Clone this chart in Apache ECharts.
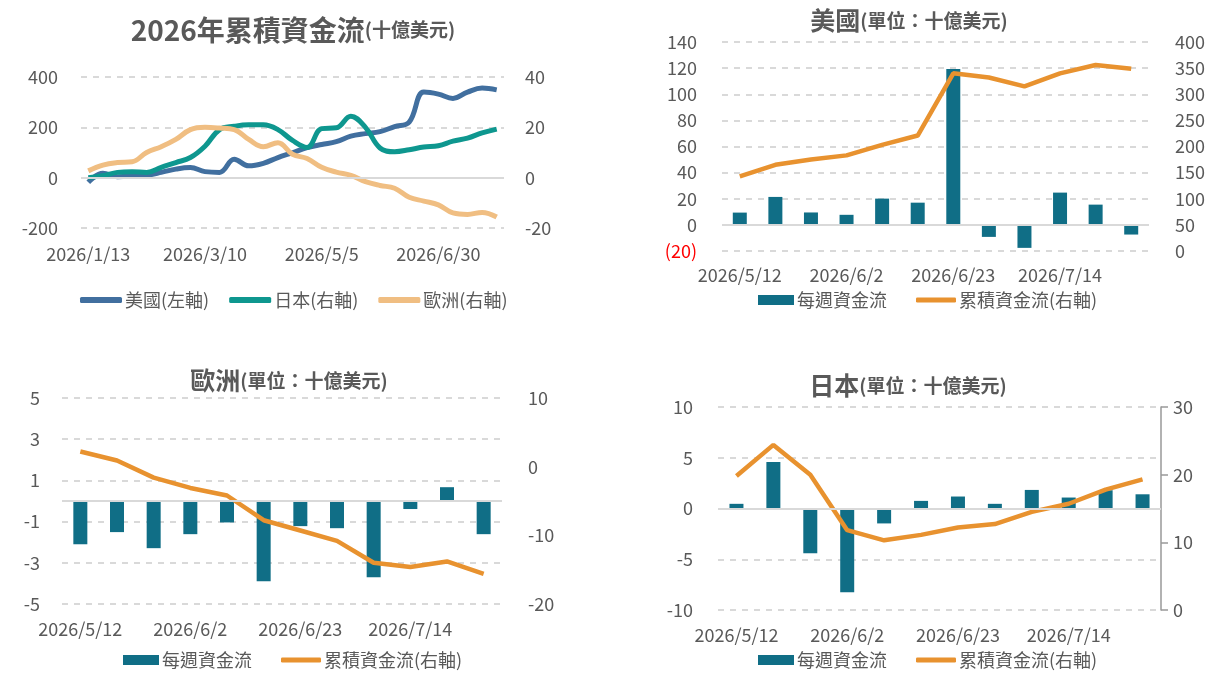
<!DOCTYPE html>
<html>
<head>
<meta charset="utf-8">
<title>2026年累積資金流</title>
<script src="https://cdn.jsdelivr.net/npm/echarts@6/dist/echarts.min.js"></script>
<style>
  html, body { margin: 0; padding: 0; background: #fff; }
  #main { width: 1230px; height: 675px; }
</style>
</head>
<body>
<div id="main"></div>
<script>
// 左上：2026年每週累積資金流(十億美元)
var weeks = ['2026/1/13','2026/1/20','2026/1/27','2026/2/3','2026/2/10','2026/2/17','2026/2/24','2026/3/3',
  '2026/3/10','2026/3/17','2026/3/24','2026/3/31','2026/4/7','2026/4/14','2026/4/21','2026/4/28',
  '2026/5/5','2026/5/12','2026/5/19','2026/5/26','2026/6/2','2026/6/9','2026/6/16','2026/6/23',
  '2026/6/30','2026/7/7','2026/7/14','2026/7/21','2026/7/28'];
var usCum = [-18, 18, 4, 6, 10, 21, 34, 40, 24, 21, 73, 47, 57, 80, 99, 119, 132,
  143, 165, 175, 183, 203, 221, 340, 332, 315, 340, 356, 349];
var jpCum = [0, 0.8, 2.1, 2.4, 2.1, 4.1, 6.0, 8.0, 12.5, 19.1, 20.4, 21.0, 21.0, 19.1, 14.8, 12.0, 19.5,
  19.8, 24.4, 20.0, 11.8, 10.3, 11.1, 12.2, 12.7, 14.5, 15.7, 17.8, 19.3];
var euCum = [2.7, 5.0, 6.0, 6.3, 10.0, 12.3, 15.2, 19.1, 20.0, 19.7, 19.1, 15.2, 12.3, 13.9, 9.3, 7.6, 4.1,
  2.2, 0.9, -1.6, -3.1, -4.2, -7.8, -9.3, -10.8, -14.0, -14.6, -13.8, -15.6];

// 其他三張：最近12週
var recentWeeks = weeks.slice(17);
var usWeekly = [9.4, 21.4, 9.5, 7.7, 20.1, 17.0, 119.4, -9.2, -17.6, 24.7, 15.5, -7.4];
var euWeekly = [-2.1, -1.51, -2.29, -1.61, -1.04, -3.9, -1.22, -1.32, -3.7, -0.39, 0.67, -1.61];
var jpWeekly = [0.46, 4.58, -4.41, -8.24, -1.47, 0.75, 1.18, 0.46, 1.83, 1.08, 1.8, 1.4];

var grey = '#595959';
var font = '"Noto Sans CJK TC", "Noto Sans", sans-serif';
var barColor = '#106e86';
var cumColor = '#e8922f';
var fs = 18;

var gridLine = { show: true, lineStyle: { color: '#d9d9d9', type: [6, 6], width: 2 } };
var zeroLine = {
  silent: true, symbol: 'none', label: { show: false },
  lineStyle: { color: '#d9d9d9', type: 'solid', width: 2 },
  data: [{ yAxis: 0 }]
};
var lbl = { color: grey, fontSize: fs, fontFamily: font };

function catAxis(idx, data, interval, margin) {
  return {
    type: 'category', gridIndex: idx, data: data,
    axisLine: { show: false, onZero: false }, axisTick: { show: false },
    axisLabel: Object.assign({ interval: interval, margin: margin }, lbl)
  };
}
function valAxis(idx, min, max, step, pos, split, margin, extra) {
  return Object.assign({
    type: 'value', gridIndex: idx, position: pos, min: min, max: max, interval: step,
    splitLine: split ? gridLine : { show: false },
    axisLine: { show: false }, axisTick: { show: false },
    axisLabel: Object.assign({ margin: margin }, lbl)
  }, extra || {});
}
function titleOf(big, small, x, y, bigSize, smallSize) {
  return {
    text: '{a|' + big + '}{b|' + small + '}', left: x, top: y, textAlign: 'center',
    textStyle: {
      rich: {
        a: { fontSize: bigSize, fontWeight: 'bold', color: grey, fontFamily: font },
        b: { fontSize: smallSize, fontWeight: 'bold', color: grey, fontFamily: font }
      }
    }
  };
}
function legendPair(x, y) {
  return [
    { left: x, top: y, itemWidth: 36, itemHeight: 10, itemGap: 20,
      data: [{ name: '每週資金流', icon: 'rect' }],
      textStyle: { color: grey, fontSize: fs, fontFamily: font, padding: [0, 0, 0, -2] } },
    { left: x + 158, top: y, itemWidth: 40, itemHeight: 5,
      data: [{ name: '累積資金流(右軸)', icon: 'roundRect' }],
      textStyle: { color: grey, fontSize: fs, fontFamily: font, padding: [0, 0, 0, -2] } }
  ];
}
function barSeries(name, x, y, data) {
  return { name: name, type: 'bar', xAxisIndex: x, yAxisIndex: y, data: data, barWidth: 14,
    itemStyle: { color: barColor }, markLine: zeroLine };
}
function cumSeries(x, y, data) {
  return { name: '累積資金流(右軸)', type: 'line', xAxisIndex: x, yAxisIndex: y, data: data,
    symbol: 'none', lineStyle: { color: cumColor, width: 4.5 }, itemStyle: { color: cumColor } };
}

var chart = echarts.init(document.getElementById('main'));
chart.setOption({
  animation: false,
  backgroundColor: '#fff',
  title: [
    titleOf('2026年累積資金流', '(十億美元)', 288, 11, 28, 19),
    titleOf('美國', '(單位：十億美元)', 904, 3, 25, 19),
    titleOf('歐洲', '(單位：十億美元)', 284, 363, 25, 19),
    titleOf('日本', '(單位：十億美元)', 903, 368, 25, 19)
  ],
  legend: [
    { left: 75, top: 286, itemWidth: 42, itemHeight: 6, itemGap: 20,
      data: [{ name: '美國(左軸)', icon: 'roundRect' }, { name: '日本(右軸)', icon: 'roundRect' },
             { name: '歐洲(右軸)', icon: 'roundRect' }],
      textStyle: { color: grey, fontSize: fs, fontFamily: font, padding: [0, 0, 0, -2] } }
  ].concat(legendPair(753, 286), legendPair(118, 646), legendPair(753, 646)),
  grid: [
    { left: 81, top: 77, width: 423, height: 151 },
    { left: 722, top: 42, width: 427, height: 209 },
    { left: 62, top: 398, width: 440, height: 206 },
    { left: 718, top: 407, width: 443, height: 203 }
  ],
  xAxis: [
    catAxis(0, weeks, 7, 17),
    catAxis(1, recentWeeks, 2, 15),
    catAxis(2, recentWeeks, 2, 16),
    catAxis(3, recentWeeks, 2, 16)
  ],
  yAxis: [
    valAxis(0, -200, 400, 200, 'left', true, 23),
    valAxis(0, -20, 40, 20, 'right', false, 21),
    valAxis(1, -20, 140, 20, 'left', true, 25, {
      axisLabel: Object.assign({ margin: 25, rich: { neg: { color: '#ff0000', fontSize: fs, fontFamily: font } },
        formatter: function (v) { return v < 0 ? '{neg|(' + (-v) + ')}' : v; } }, lbl)
    }),
    valAxis(1, 0, 400, 50, 'right', false, 26),
    valAxis(2, -5, 5, 2, 'left', true, 22),
    valAxis(2, -20, 10, 10, 'right', false, 26),
    valAxis(3, -10, 10, 5, 'left', true, 25),
    valAxis(3, 0, 30, 10, 'right', false, 12, {
      axisLine: { show: true, lineStyle: { color: '#999', width: 1.5 } },
      axisTick: { show: true, length: 7, lineStyle: { color: '#999', width: 1.5 } }
    })
  ],
  series: [
    { name: '美國(左軸)', type: 'line', xAxisIndex: 0, yAxisIndex: 0, data: usCum, smooth: 0.4,
      symbol: 'none', lineStyle: { color: '#416f9f', width: 5 }, itemStyle: { color: '#416f9f' },
      markLine: zeroLine },
    { name: '日本(右軸)', type: 'line', xAxisIndex: 0, yAxisIndex: 1, data: jpCum, smooth: 0.4,
      symbol: 'none', lineStyle: { color: '#0e978f', width: 5 }, itemStyle: { color: '#0e978f' } },
    { name: '歐洲(右軸)', type: 'line', xAxisIndex: 0, yAxisIndex: 1, data: euCum, smooth: 0.4,
      symbol: 'none', lineStyle: { color: '#f0be82', width: 5 }, itemStyle: { color: '#f0be82' } },

    barSeries('每週資金流', 1, 2, usWeekly),
    cumSeries(1, 3, usCum.slice(17)),
    barSeries('每週資金流', 2, 4, euWeekly),
    cumSeries(2, 5, euCum.slice(17)),
    barSeries('每週資金流', 3, 6, jpWeekly),
    cumSeries(3, 7, jpCum.slice(17))
  ]
});
</script>
</body>
</html>
